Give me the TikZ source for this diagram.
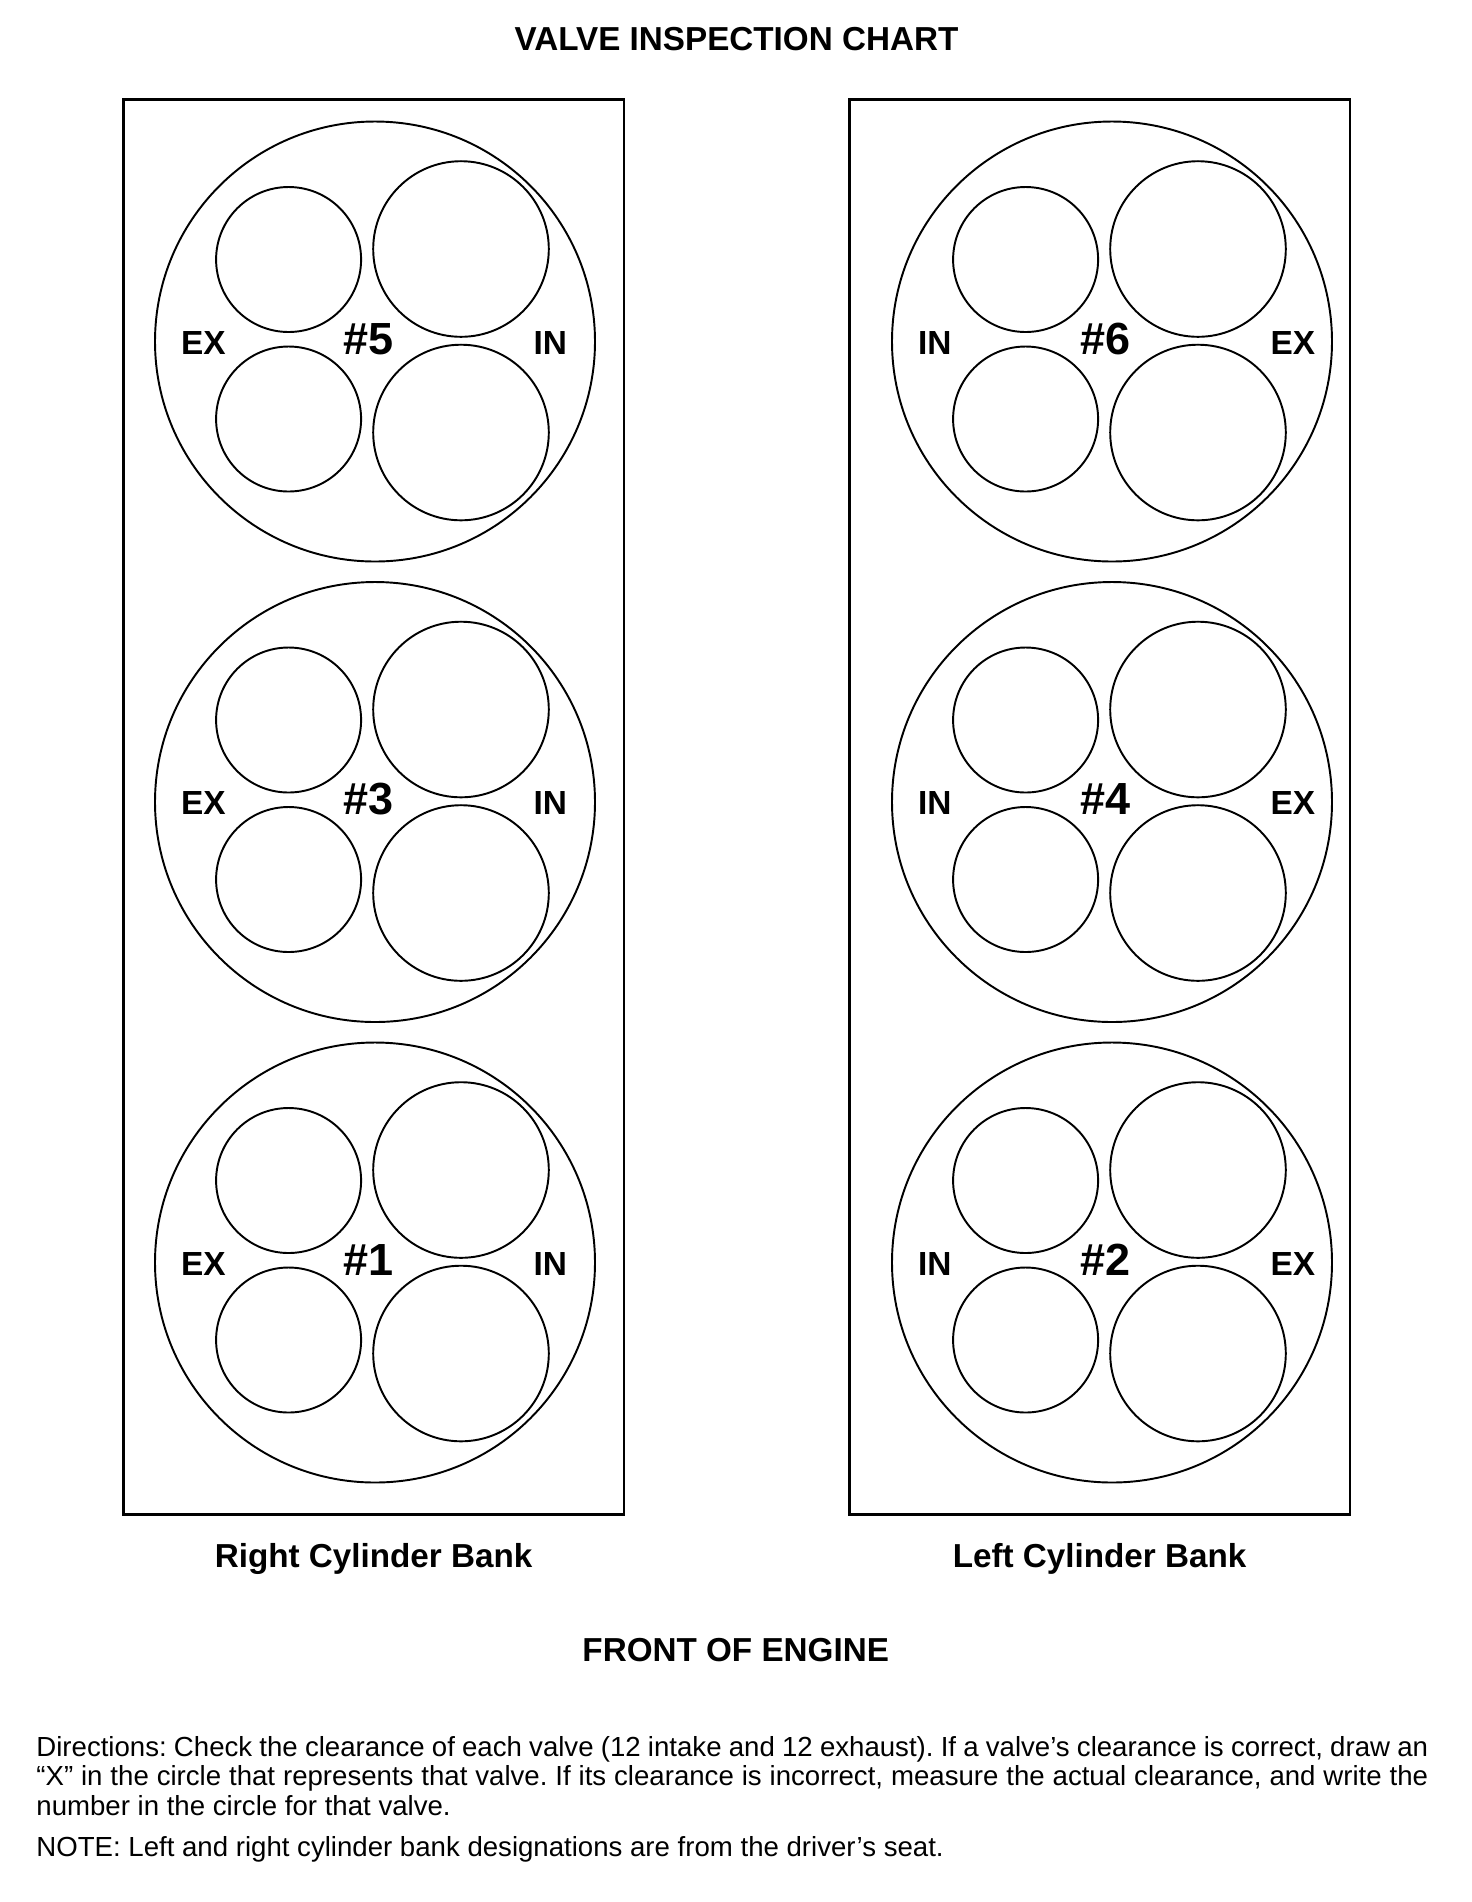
\documentclass[tikz,border=0pt]{standalone}
\usepackage{fontspec}
\setmainfont{Liberation Sans}
\usepackage{tikz}
\frenchspacing

\begin{document}
\begin{tikzpicture}[x=0.01cm,y=-0.01cm,
    bankbox/.style={line width=0.7pt},
    valve/.style={line width=0.55pt},
    side/.style={font=\fontsize{9.5}{11}\selectfont\bfseries,inner sep=0pt},
    cylnum/.style={font=\fontsize{12.8}{14}\selectfont\bfseries,inner sep=0pt},
    heading/.style={font=\fontsize{9.45}{11}\selectfont\bfseries,inner sep=0pt},
    note/.style={font=\fontsize{7.85}{8.5}\selectfont,inner sep=0pt,text width=13.91cm,align=justify}]
  \useasboundingbox (0,0) rectangle (1472,1902);
  \node[heading,anchor=base] (title) at (736.5,50.7) {VALVE INSPECTION CHART};
  % the two banks
  \draw[bankbox] (123.3,99.3) rectangle (623.9,1514.3);
  \draw[bankbox] (849.3,99.3) rectangle (1349.9,1514.3);
  \foreach \cx/\cy/\n/\lt/\rt in {375/341.5/5/EX/IN, 375/802/3/EX/IN, 375/1262.5/1/EX/IN,
                                   1112/341.5/6/IN/EX, 1112/802/4/IN/EX, 1112/1262.5/2/IN/EX} {
    \draw[valve] (\cx,\cy) circle (220);
    \draw[valve] (\cx-86.4,\cy-82) circle (72.5);
    \draw[valve] (\cx-86.4,\cy+77.5) circle (72.5);
    \draw[valve] (\cx+86,\cy-92.5) circle (87.8);
    \draw[valve] (\cx+86,\cy+91) circle (87.8);
    \node[side,anchor=base west] (lt\n) at (\cx-194.5,\cy+12.5) {\lt};
    \node[cylnum,anchor=base west] (cyl\n) at (\cx-32,\cy+12.5) {\#\n};
    \node[side,anchor=base west] (rt\n) at (\cx+158,\cy+12.5) {\rt};
  }
  \node[heading,anchor=base] (rbank) at (373.6,1567.3) {Right Cylinder Bank};
  \node[heading,anchor=base] (lbank) at (1099.6,1567.3) {Left Cylinder Bank};
  \node[heading,anchor=base] (front) at (735.7,1661.7) {FRONT OF ENGINE};
  \node[note,anchor=base west] (dirs) at (35.7,1756) {Directions: Check the clearance of each valve (12 intake and 12 exhaust). If a valve’s clearance is correct, draw an\linebreak “X” in the circle that represents that valve. If its clearance is incorrect, measure the actual clearance, and write the\linebreak number in the circle for that valve.};
  \node[note,anchor=base west] (nb) at (35.7,1856) {NOTE: Left and right cylinder bank designations are from the driver’s seat.};
\end{tikzpicture}
\end{document}
